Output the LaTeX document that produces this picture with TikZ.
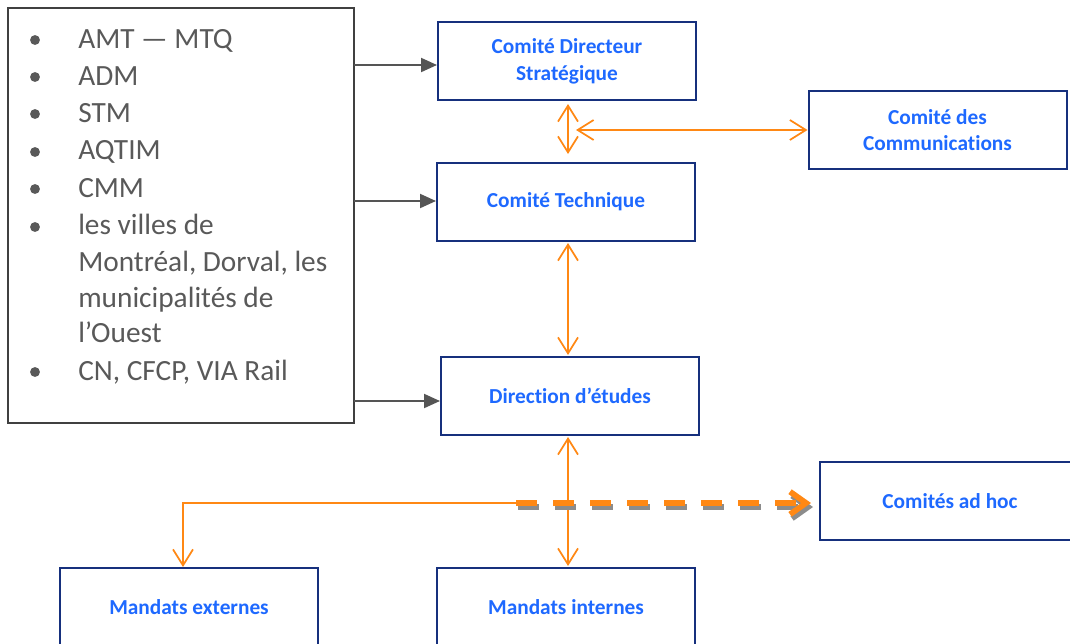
\documentclass[tikz,border=0pt]{standalone}
\usepackage{fontspec}
\setmainfont{Carlito}[Ligatures=NoCommon]
\usetikzlibrary{arrows.meta,calc}
\definecolor{navy}{RGB}{22,48,125}
\definecolor{lblue}{RGB}{30,105,255}
\definecolor{org}{RGB}{255,136,20}
\definecolor{txtgray}{RGB}{89,89,89}
\definecolor{lngray}{RGB}{85,85,85}
\definecolor{shgray}{RGB}{140,140,140}
\begin{document}
\begin{tikzpicture}[x=0.75pt,y=-0.75pt,
  bluebox/.style={draw=navy, line width=1.5pt, fill=white, minimum width=193.5pt, minimum height=58.5pt,
    inner sep=0pt, align=center, text=lblue, font=\fontsize{16}{20}\selectfont\bfseries},
  listbox/.style={draw=black!75, line width=1.1pt, minimum width=259.5pt, minimum height=311.25pt, inner sep=0pt},
  listtxt/.style={anchor=base west, inner sep=0pt, text=txtgray, font=\fontsize{22}{26}\selectfont},
  garr/.style={draw=lngray, line width=1.5pt, -{Triangle[length=12pt,width=10.5pt]}},
  oarr/.style={draw=org, line width=1.3pt, {Straight Barb[length=12pt,width=15pt]}-{Straight Barb[length=12pt,width=15pt]}},
  oone/.style={draw=org, line width=1.3pt, -{Straight Barb[length=12pt,width=15pt]}},
  bigdash/.style={line width=4.3pt, dash pattern=on 15.75pt off 12pt, -{Straight Barb[length=12pt,width=17pt]}}
]
\useasboundingbox (0,0) rectangle (1070,643);
\clip (0,0) rectangle (1070,643);

% left list box
\node[listbox] (lbox) at (181,215.5) {};
\foreach \b in {40,77,114,152,189,227,372}{\fill[txtgray] (35,\b) circle[radius=3.7pt];}
\node[listtxt] (t1) at (78,48) {AMT — MTQ};
\node[listtxt] (t2) at (78,85) {ADM};
\node[listtxt] (t3) at (78,122) {STM};
\node[listtxt] (t4) at (78,159) {AQTIM};
\node[listtxt] (t5) at (78,197) {CMM};
\node[listtxt] (t6) at (78,234) {les villes de};
\node[listtxt] (t7) at (78,271) {Montréal, Dorval, les};
\node[listtxt] (t8) at (78,307) {municipalités de};
\node[listtxt] (t9) at (78,342) {l’Ouest};
\node[listtxt] (t10) at (78,380) {CN, CFCP, VIA Rail};

% blue boxes
\node[bluebox] (cds) at (567,61) {Comité Directeur\\Stratégique};
\node[bluebox] (comm) at (937.5,130) {Comité des\\Communications};
\node[bluebox] (ct) at (566,202) {Comité Technique};
\node[bluebox] (de) at (570,396) {Direction d’études};
\node[bluebox, minimum width=195pt] (adhoc) at (950,501) {Comités ad hoc};
\node[bluebox] (me) at (189,607) {Mandats externes};
\node[bluebox] (mi) at (566,607) {Mandats internes};

% gray connectors
\coordinate (g1) at (354,65);
\coordinate (g2) at (354,201);
\coordinate (g3) at (354,401);
\draw[garr] (g1) -- (g1 -| cds.west);
\draw[garr] (g2) -- (g2 -| ct.west);
\draw[garr] (g3) -- (g3 -| de.west);

% orange connectors
\draw[oarr] ($(cds.south)+(1,3)$) -- ($(ct.north)+(2,-8)$);
\coordinate (hl) at (576,130);
\draw[oarr] (hl) -- (comm.west);
\draw[oarr] ($(ct.south)+(2,1)$) -- ($(de.north)+(-2,-1)$);
\draw[oarr] ($(de.south)+(-2,1)$) -- ($(mi.north)+(2,-1)$);
\coordinate (ds) at (516,503);
\draw[oone] (ds) -| ($(me.north)+(-6,0)$);
\draw[bigdash, draw=shgray] ($(ds)+(2,4)$) -- ($(ds -| adhoc.west)+(-6,4)$);
\draw[bigdash, draw=org] (ds) -- ($(ds -| adhoc.west)+(-8,0)$);
\end{tikzpicture}
\end{document}
